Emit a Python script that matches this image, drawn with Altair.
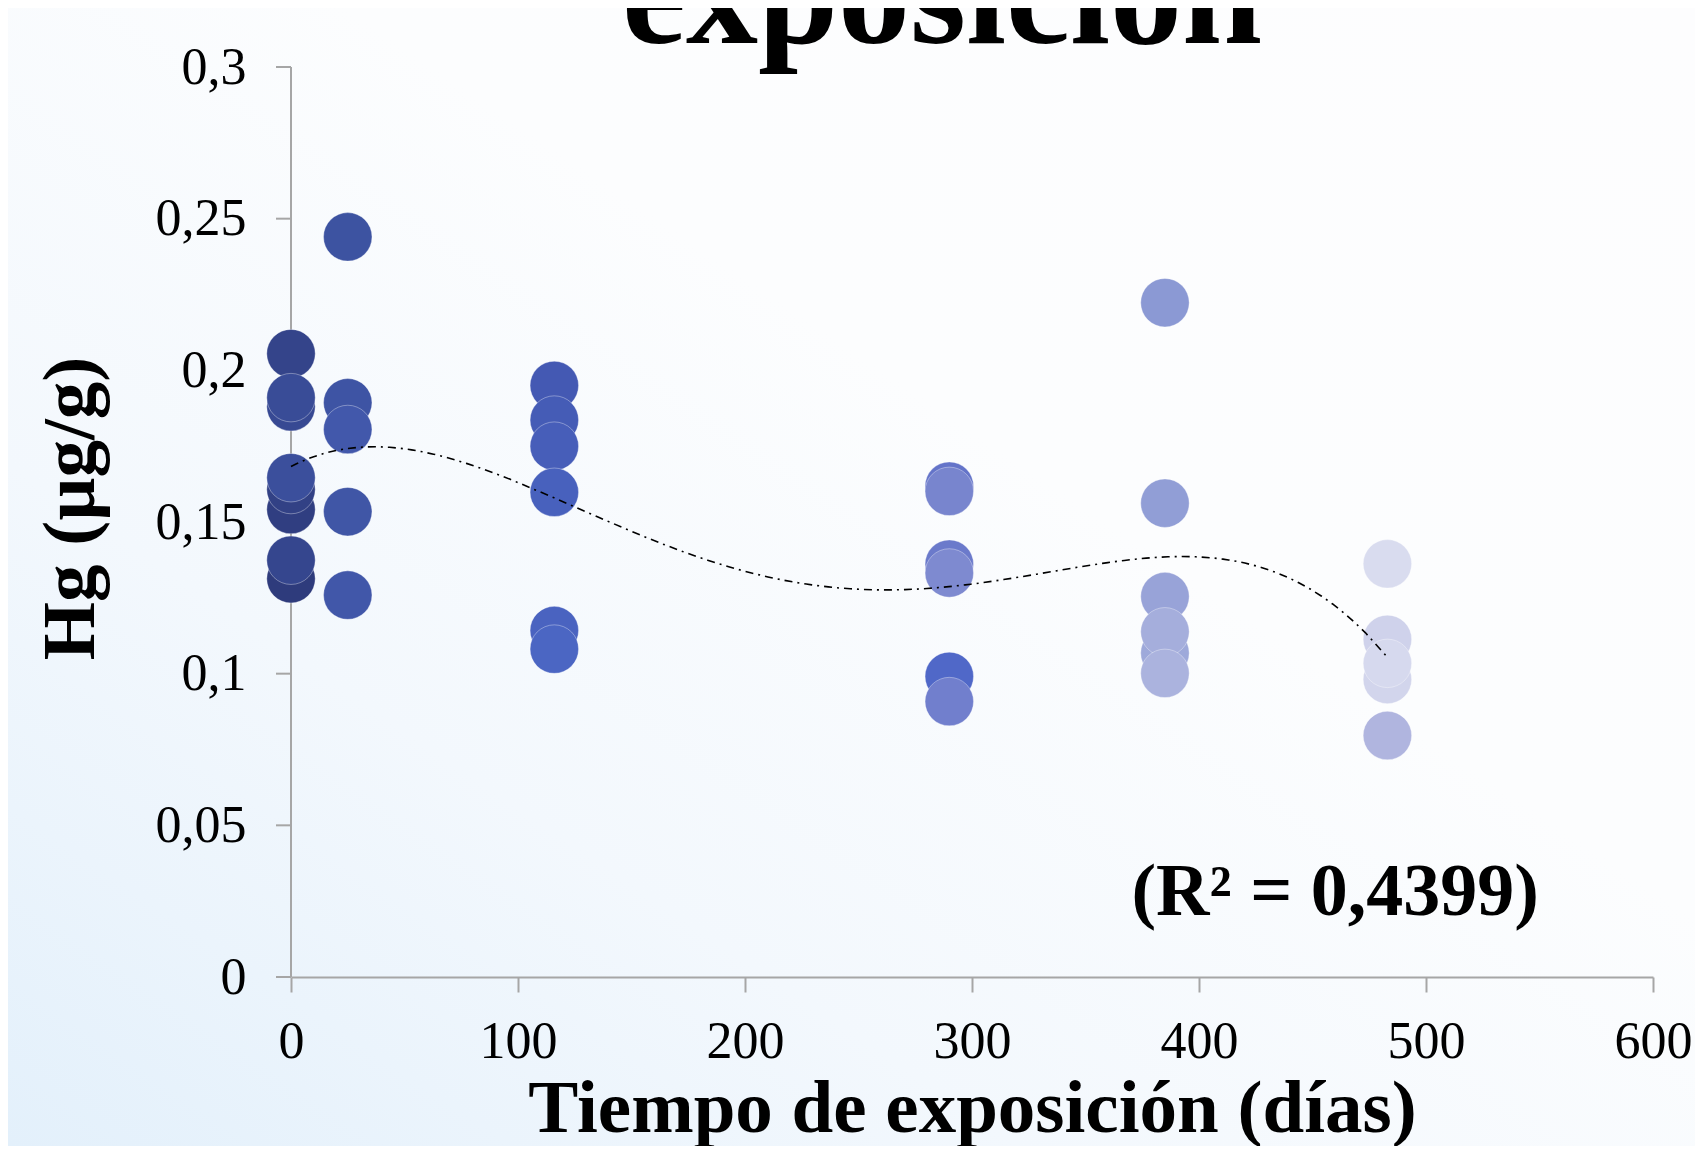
import altair as alt
import pandas as pd

# ---- data ----
dias = [0, 0, 0, 0, 0, 0, 0, 0,
        25, 25, 25, 25, 25,
        116, 116, 116, 116, 116, 116,
        290, 290, 290, 290, 290, 290,
        385, 385, 385, 385, 385, 385,
        483, 483, 483, 483, 483]
hg = [0.1313, 0.1541, 0.1607, 0.2055, 0.1374, 0.1880, 0.1910, 0.1646,
      0.2440, 0.1893, 0.1534, 0.1259, 0.1805,
      0.1950, 0.1836, 0.1750, 0.1598, 0.1142, 0.1081,
      0.0991, 0.1618, 0.1361, 0.0908, 0.1601, 0.1332,
      0.2223, 0.1562, 0.1254, 0.1068, 0.1138, 0.1001,
      0.0796, 0.1113, 0.0981, 0.1034, 0.1362]
orden = list(range(1, len(hg) + 1))

x_ticks = [0, 100, 200, 300, 400, 500, 600]
y_ticks = [0, 0.05, 0.1, 0.15, 0.2, 0.25, 0.3]

titulo = "exposición"
titulo_x = "Tiempo de exposición (días)"
titulo_y = "Hg (µg/g)"
r2_texto = ["(R² = 0,4399)"]
r2_x = [460]
r2_y = [0.0206]

# colour ramp along the series (dark -> light)
color_dominio = [1, 8, 9, 13, 14, 19, 20, 21, 25, 26, 31, 32, 33, 36]
color_rango = ["#2e3b7c", "#3b4f9c", "#3d53a1", "#4258ab", "#4459b3", "#4b66c3",
               "#5068c8", "#6474c9", "#7e8ad0", "#8b99d4", "#abb3de",
               "#b0b5df", "#cfd2eb", "#d9dcef"]

df = pd.DataFrame({"dias": dias, "hg": hg, "orden": orden})
df_r2 = pd.DataFrame({"x": r2_x, "y": r2_y, "t": r2_texto})
df_yt = pd.DataFrame({"v": y_ticks})
df_uno = pd.DataFrame({"a": [0]})

FONT = "Liberation Serif"
AXC = "#a6a6a6"
W, H = 1362, 910
PAD = {"left": 283, "top": 59, "right": 42, "bottom": 169}

xscale = alt.Scale(domain=[0, 600], nice=False, zero=True)
yscale = alt.Scale(domain=[0, 0.3], nice=False, zero=True)

fondo = alt.Chart(df_uno).mark_rect(
    color=alt.LinearGradient(
        gradient="linear", x1=0, y1=1, x2=1, y2=0,
        stops=[alt.GradientStop(color="#e3f0fb", offset=0),
               alt.GradientStop(color="#f3f8fd", offset=0.3),
               alt.GradientStop(color="#fcfdfe", offset=0.6),
               alt.GradientStop(color="#fdfdfe", offset=1)])
).encode(
    x=alt.value(-PAD["left"]), x2=alt.value(W + PAD["right"]),
    y=alt.value(-PAD["top"]), y2=alt.value(H + PAD["bottom"])
)

# y axis line and ticks drawn beneath the points (as in the reference)
eje_y = alt.Chart(df_uno).mark_rule(color=AXC, strokeWidth=2).encode(
    x=alt.value(0), y=alt.value(0), y2=alt.value(H)
)
ticks_y = alt.Chart(df_yt).mark_rule(color=AXC, strokeWidth=2).encode(
    x=alt.value(-15), x2=alt.value(0), y=alt.Y("v:Q", scale=yscale)
)

puntos = alt.Chart(df).mark_circle(
    size=2350, opacity=1, stroke="white", strokeWidth=1, strokeOpacity=0.35
).encode(
    x=alt.X("dias:Q", scale=xscale,
            axis=alt.Axis(values=x_ticks, format="d", title=titulo_x,
                          titleY=154, titleBaseline="alphabetic",
                          labelPadding=24, labelFlush=False, zindex=1,
                          domainColor=AXC, domainWidth=2,
                          tickColor=AXC, tickWidth=2, tickSize=15)),
    y=alt.Y("hg:Q", scale=yscale,
            axis=alt.Axis(values=y_ticks, title=titulo_y,
                          labelExpr="replace(format(datum.value, '~g'), '.', ',')",
                          titleX=-198, titleY=441, titleAngle=270,
                          titleBaseline="alphabetic", labelPadding=45,
                          labelFlush=False,
                          domain=False, ticks=False, zindex=1)),
    color=alt.Color("orden:Q", legend=None,
                    scale=alt.Scale(domain=color_dominio, range=color_rango,
                                    interpolate="rgb")),
    order=alt.Order("orden:Q"),
)

tendencia = alt.Chart(df).transform_regression(
    "dias", "hg", method="poly", order=4
).mark_line(
    color="black", strokeWidth=1.6, strokeDash=[8, 5, 2, 5]
).encode(
    x=alt.X("dias:Q", scale=xscale),
    y=alt.Y("hg:Q", scale=yscale),
)

r2 = alt.Chart(df_r2).mark_text(
    font=FONT, fontSize=74, fontWeight="bold", color="black",
    align="center", baseline="alphabetic"
).encode(
    x=alt.X("x:Q", scale=xscale),
    y=alt.Y("y:Q", scale=yscale),
    text="t:N",
)

tit = alt.Chart(df_uno).mark_text(
    text=titulo, font=FONT, fontSize=144, fontWeight="bold", color="black",
    align="center", baseline="alphabetic"
).encode(x=alt.value(651), y=alt.value(-24))

chart = alt.layer(fondo, eje_y, ticks_y, puntos, tendencia, r2, tit).properties(
    width=W, height=H,
    autosize=alt.AutoSizeParams(type="none"),
    padding=PAD,
    background="#ffffff",
).configure_view(
    stroke=None
).configure_axis(
    grid=False,
    labelFont=FONT, labelFontSize=52, labelColor="black",
    titleFont=FONT, titleFontSize=75, titleFontWeight="bold", titleColor="black",
)

chart.save("out.html", embed_options={"renderer": "svg", "actions": False})
